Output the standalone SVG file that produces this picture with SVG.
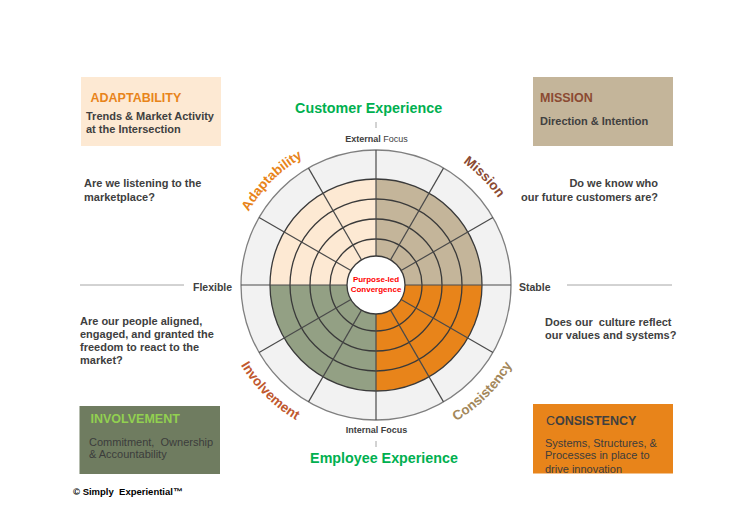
<svg xmlns="http://www.w3.org/2000/svg" width="732" height="507" viewBox="0 0 732 507">
<style>
text{font-family:"Liberation Sans",Arial,sans-serif}
.q{font-size:11px;font-weight:bold;fill:#404040}
.ttl{font-size:12.5px;font-weight:bold}
.sub{font-size:11px;font-weight:bold;fill:#404040}
.body{font-size:11px;fill:#3c3c3c}
.ring{fill:none;stroke:#3a3a3a;stroke-width:1.3}
.spoke{stroke:#4a4a4a;stroke-width:1.2}
.axis{stroke:#a6a6a6;stroke-width:1}
.arc{font-size:13.5px;font-weight:bold}
.exp{font-size:14.3px;font-weight:bold;fill:#00b050}
.focus{font-size:9px;fill:#404040}
.side{font-size:10.5px;font-weight:bold;fill:#404040}
</style>
<defs>
<path id="pAdapt" d="M229,285 A147,147 0 0 1 376,138"/>
<path id="pMission" d="M376,135 A150,150 0 0 1 526,285"/>
<path id="pInv" d="M219,285 A157,157 0 0 0 376,442"/>
<path id="pCons" d="M376,443 A158,158 0 0 0 534,285"/>
<clipPath id="clipCons"><rect x="533" y="404" width="140" height="69.5"/></clipPath>
</defs>
<rect width="732" height="507" fill="#ffffff"/>

<g id="connectors">
<line class="axis" x1="80" y1="285" x2="184" y2="285"/>
<line class="axis" x1="567" y1="285" x2="672" y2="285"/>
<line class="axis" x1="376" y1="122" x2="376" y2="128"/>
<line class="axis" x1="376" y1="441" x2="376" y2="447"/>
</g>

<g id="wheel">
<circle cx="376" cy="285" r="135" fill="#f2f2f2" stroke="#7f7f7f" stroke-width="1.3"/>
<path d="M376,285 L270,285 A106,106 0 0 1 376,179 Z" fill="#fde9d3"/>
<path d="M376,285 L376,179 A106,106 0 0 1 482,285 Z" fill="#c4b59a"/>
<path d="M376,285 L482,285 A106,106 0 0 1 376,391 Z" fill="#e8841a"/>
<path d="M376,285 L376,391 A106,106 0 0 1 270,285 Z" fill="#93a084"/>
<circle class="ring" cx="376" cy="285" r="106"/>
<circle class="ring" cx="376" cy="285" r="86"/>
<circle class="ring" cx="376" cy="285" r="66"/>
<circle class="ring" cx="376" cy="285" r="46"/>
<line class="spoke" x1="241" y1="285" x2="511" y2="285"/>
<line class="spoke" x1="376" y1="150" x2="376" y2="420"/>
<line class="spoke" x1="401.11" y1="299.5" x2="492.91" y2="352.5"/>
<line class="spoke" x1="390.5" y1="310.11" x2="443.5" y2="401.91"/>
<line class="spoke" x1="361.5" y1="310.11" x2="308.5" y2="401.91"/>
<line class="spoke" x1="350.89" y1="299.5" x2="259.09" y2="352.5"/>
<line class="spoke" x1="350.89" y1="270.5" x2="259.09" y2="217.5"/>
<line class="spoke" x1="361.5" y1="259.89" x2="308.5" y2="168.09"/>
<line class="spoke" x1="390.5" y1="259.89" x2="443.5" y2="168.09"/>
<line class="spoke" x1="401.11" y1="270.5" x2="492.91" y2="217.5"/>
</g>

<g id="center">
<circle cx="376" cy="285" r="29" fill="#ffffff" stroke="#3a3a3a" stroke-width="1.3"/>
<text x="376" y="281.5" text-anchor="middle" font-size="8" font-weight="bold" fill="#ff0000">Purpose-led</text>
<text x="376" y="291.5" text-anchor="middle" font-size="8" font-weight="bold" fill="#ff0000">Convergence</text>
</g>

<g id="arc-labels">
<text class="arc" fill="#e8841a"><textPath href="#pAdapt" startOffset="50%" text-anchor="middle">Adaptability</textPath></text>
<text class="arc" fill="#8b4a32"><textPath href="#pMission" startOffset="50%" text-anchor="middle">Mission</textPath></text>
<text class="arc" fill="#c0582e"><textPath href="#pInv" startOffset="50%" text-anchor="middle">Involvement</textPath></text>
<text class="arc" fill="#a3875a"><textPath href="#pCons" startOffset="50%" text-anchor="middle">Consistency</textPath></text>
</g>

<g id="axis-labels">
<text class="exp" x="368.6" y="112.7" text-anchor="middle">Customer Experience</text>
<text class="focus" x="376.5" y="141.7" text-anchor="middle"><tspan font-weight="bold">External</tspan> Focus</text>
<text class="focus" x="376.5" y="432.7" text-anchor="middle" font-weight="bold">Internal Focus</text>
<text class="exp" x="384" y="462.7" text-anchor="middle">Employee Experience</text>
<text class="side" x="193" y="290.5">Flexible</text>
<text class="side" x="519" y="290.5">Stable</text>
</g>

<g id="adaptability-box">
<rect x="81" y="77" width="140" height="69" fill="#fde9d3"/>
<text class="ttl" x="90.5" y="102" fill="#e8841a">ADAPTABILITY</text>
<text class="sub" x="86" y="120">Trends &amp; Market Activity</text>
<text class="sub" x="86" y="133">at the Intersection</text>
</g>

<g id="mission-box">
<rect x="533" y="77" width="140" height="69" fill="#c4b59a"/>
<text class="ttl" x="540" y="101.7" fill="#8b4a32">MISSION</text>
<text class="sub" x="540" y="125">Direction &amp; Intention</text>
</g>

<g id="involvement-box">
<rect x="79.5" y="406" width="140.5" height="68" fill="#6f7c60"/>
<text class="ttl" x="90.5" y="423" fill="#92d050">INVOLVEMENT</text>
<text class="body" x="89" y="445.7">Commitment,&#160; Ownership</text>
<text class="body" x="89" y="458">&amp; Accountability</text>
</g>

<g id="consistency-box">
<rect x="533" y="404" width="140" height="69.5" fill="#e8841a"/>
<g clip-path="url(#clipCons)">
<text class="ttl" x="546" y="425" fill="#404040"><tspan font-weight="normal">C</tspan>ONSISTENCY</text>
<text class="body" x="545" y="446.7" fill="#404040">Systems, Structures, &amp;</text>
<text class="body" x="545" y="459.2" fill="#404040">Processes in place to</text>
<text class="body" x="545" y="472.5" fill="#404040">drive innovation</text>
</g>
</g>

<g id="questions">
<text class="q" x="84" y="187">Are we listening to the</text>
<text class="q" x="84" y="200.5">marketplace?</text>
<text class="q" x="658" y="187" text-anchor="end">Do we know who</text>
<text class="q" x="658" y="200.5" text-anchor="end">our future customers are?</text>
<text class="q" x="80" y="325">Are our people aligned,</text>
<text class="q" x="80" y="338">engaged, and granted the</text>
<text class="q" x="80" y="351">freedom to react to the</text>
<text class="q" x="80" y="364">market?</text>
<text class="q" x="545" y="326">Does our&#160; culture reflect</text>
<text class="q" x="545" y="338.5">our values and systems?</text>
</g>

<g id="footer">
<text x="73" y="495" font-size="9.5" font-weight="bold" fill="#000000">© Simply&#160; Experiential™</text>
</g>
</svg>
